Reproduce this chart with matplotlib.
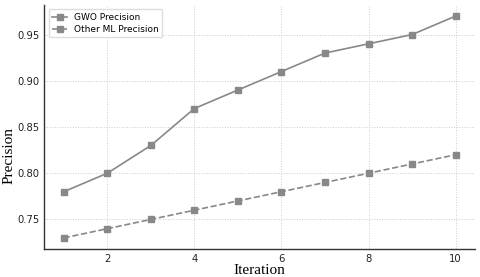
import matplotlib
matplotlib.use("Agg")
from matplotlib import pyplot as plt

iterations = [1, 2, 3, 4, 5, 6, 7, 8, 9, 10]
gwo_precision = [0.78, 0.80, 0.83, 0.87, 0.89, 0.91, 0.93, 0.94, 0.95, 0.97]
other_ml_precision = [0.73, 0.74, 0.75, 0.76, 0.77, 0.78, 0.79, 0.80, 0.81, 0.82]

fig = plt.figure(figsize=(4.8, 2.77), dpi=100)
ax = fig.add_axes([0.092, 0.101, 0.898, 0.881])

ax.plot(iterations, gwo_precision, color="#888888", linewidth=1.2,
        marker="s", markersize=4, label="GWO Precision")
ax.plot(iterations, other_ml_precision, color="#888888", linewidth=1.2,
        linestyle="--", marker="s", markersize=4, label="Other ML Precision")

ax.set_xticks([2, 4, 6, 8, 10])
ax.set_yticks([0.75, 0.80, 0.85, 0.90, 0.95])
ax.tick_params(length=0, labelsize=7.2, colors="#222222", pad=3.5)
ax.grid(True, linestyle=":", color="#cccccc", linewidth=0.7)

for side in ("top", "right"):
    ax.spines[side].set_visible(False)
for side in ("left", "bottom"):
    ax.spines[side].set_color("#333333")
    ax.spines[side].set_linewidth(1.0)

ax.set_xlabel("Iteration", family="Liberation Serif", fontsize=11, labelpad=0)
ax.set_ylabel("Precision", family="Liberation Serif", fontsize=11)
# label sits below the axes centre in the reference
ax.yaxis.set_label_coords(-0.066, 0.385)

ax.legend(loc="upper left", fontsize=6.5, frameon=True, framealpha=1,
          edgecolor="#dddddd", handlelength=1.6, borderpad=0.4,
          labelspacing=0.3)

fig.savefig("out.png", dpi=100)
